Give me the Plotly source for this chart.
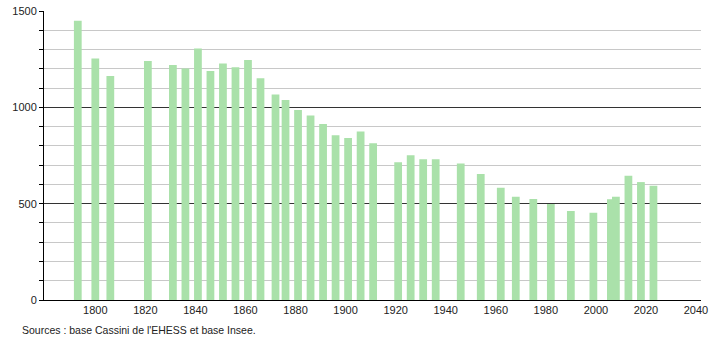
import plotly.graph_objects as go

years = [1793, 1800, 1806, 1821, 1831, 1836, 1841, 1846, 1851, 1856, 1861, 1866,
         1872, 1876, 1881, 1886, 1891, 1896, 1901, 1906, 1911, 1921, 1926, 1931,
         1936, 1946, 1954, 1962, 1968, 1975, 1982, 1990, 1999, 2006, 2008, 2013,
         2018, 2023]
population = [1450, 1254, 1163, 1240, 1220, 1202, 1306, 1189, 1228, 1208, 1246, 1151,
              1067, 1038, 986, 957, 913, 855, 841, 874, 813, 715, 751, 730,
              730, 709, 654, 583, 536, 524, 498, 462, 453, 523, 536, 645,
              612, 593]
x_ticks = [1800, 1820, 1840, 1860, 1880, 1900, 1920, 1940, 1960, 1980, 2000, 2020, 2040]
y_ticks = [0, 500, 1000, 1500]
source_text = "Sources : base Cassini de l'EHESS et base Insee."

fig = go.Figure()
fig.add_trace(go.Bar(
    x=years, y=population, width=3.1,
    marker=dict(color="rgb(170,225,170)", line=dict(width=0)),
    hoverinfo="x+y",
))

fig.update_layout(
    width=710, height=340,
    margin=dict(l=44, r=9, t=11, b=40, autoexpand=False),
    paper_bgcolor="white", plot_bgcolor="white",
    showlegend=False,
    font=dict(family="Liberation Sans, Arial, sans-serif", size=11, color="#222"),
    xaxis=dict(
        range=[1779.5, 2042], tickvals=x_ticks, ticktext=[str(t) for t in x_ticks],
        showgrid=False, zeroline=False, showline=True, linecolor="#000", linewidth=1,
        ticks="", tickfont=dict(size=11, color="#222"), automargin=False,
    ),
    yaxis=dict(
        range=[0, 1500], tickvals=y_ticks, ticktext=[str(t) for t in y_ticks],
        showgrid=True, gridcolor="#333", gridwidth=1,
        zeroline=False, showline=True, linecolor="#000", linewidth=1,
        ticks="outside", ticklen=4, tickcolor="#000", automargin=False,
        tickfont=dict(size=11, color="#222"),
        minor=dict(dtick=100, showgrid=True, gridcolor="#c8c8c8", gridwidth=1,
                   ticks="outside", ticklen=4, tickcolor="#000"),
    ),
    annotations=[dict(
        text=source_text, xref="paper", yref="paper", x=-24/657, y=-0.075,
        xanchor="left", yanchor="top", showarrow=False,
        font=dict(size=10.5, color="#222"),
    )],
)

fig.write_html("out.html")
